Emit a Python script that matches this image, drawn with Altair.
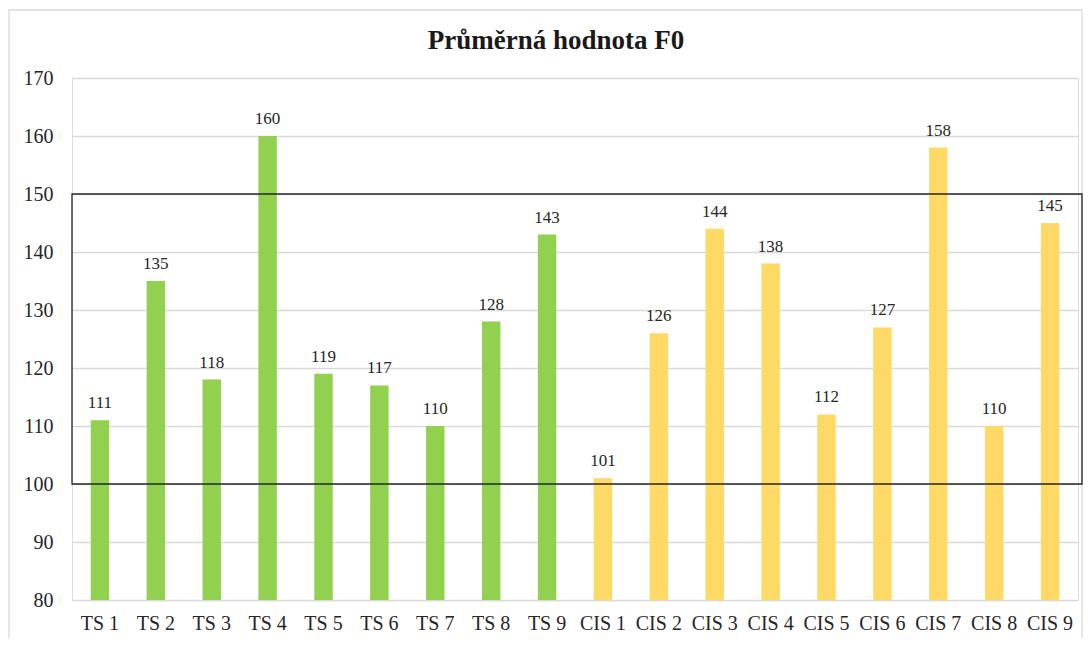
import altair as alt
import pandas as pd

categories = ["TS 1", "TS 2", "TS 3", "TS 4", "TS 5", "TS 6", "TS 7", "TS 8", "TS 9",
              "CIS 1", "CIS 2", "CIS 3", "CIS 4", "CIS 5", "CIS 6", "CIS 7", "CIS 8", "CIS 9"]
values = [111, 135, 118, 160, 119, 117, 110, 128, 143,
          101, 126, 144, 138, 112, 127, 158, 110, 145]
groups = ["TS"] * 9 + ["CIS"] * 9
group_colors = {"TS": "#92D050", "CIS": "#FFD966"}
box_range = [100, 150]
title_text = "Průměrná hodnota F0"

df = pd.DataFrame({"cat": categories, "val": values, "grp": groups})
box_df = pd.DataFrame({"lo": [box_range[0]], "hi": [box_range[1]]})
title_df = pd.DataFrame({"t": [title_text]})

FONT = "Liberation Serif"
W, H = 1006, 522
PL, PT, PR, PB = 64, 70, 5, 38

x = alt.X("cat:N", sort=categories, title=None,
          scale=alt.Scale(paddingInner=0.67, paddingOuter=0.335),
          axis=alt.Axis(labelAngle=0, labelFontSize=20, labelColor="#262626",
                        labelFont=FONT, ticks=False, domain=False, labelPadding=13))
y = alt.Y("val:Q", title=None,
          scale=alt.Scale(domain=[80, 170], nice=False, zero=False),
          axis=alt.Axis(values=list(range(80, 171, 10)), labelFontSize=20,
                        labelColor="#262626", labelFont=FONT, ticks=False,
                        domain=False, labelPadding=19, gridColor="#d9d9d9",
                        gridWidth=1.3))

bars = alt.Chart(df).mark_bar(clip=True).encode(
    x=x, y=y,
    color=alt.Color("grp:N", scale=alt.Scale(domain=list(group_colors.keys()),
                                             range=list(group_colors.values())),
                    legend=None),
)

labels = alt.Chart(df).mark_text(dy=-17, fontSize=17, font=FONT, color="#262626").encode(
    x=alt.X("cat:N", sort=categories), y="val:Q", text="val:Q"
)

box = alt.Chart(box_df).mark_rect(fill=None, stroke="#262626", strokeWidth=1.3, clip=False).encode(
    y="lo:Q", y2="hi:Q", x=alt.value(0), x2=alt.value(W + 4)
)

frame = alt.Chart(box_df).mark_rect(fill=None, stroke="#d9d9d9", strokeWidth=1.3, clip=False).encode(
    x=alt.value(-PL + 1), x2=alt.value(W + PR - 1), y=alt.value(-PT + 2), y2=alt.value(H + 60)
)

title = alt.Chart(title_df).mark_text(font=FONT, fontSize=27, fontWeight="bold",
                                      color="#1a1a1a", baseline="alphabetic",
                                      align="center").encode(
    x=alt.value(484), y=alt.value(-29), text="t:N"
)

chart = alt.layer(frame, bars, labels, box, title).properties(
    width=W, height=H,
    autosize=alt.AutoSizeParams(type="none"),
    padding={"left": PL, "top": PT, "right": PR, "bottom": PB},
).configure_view(stroke=None).configure(background="white")

chart.save("out.html", embed_options={"renderer": "svg", "actions": False})
